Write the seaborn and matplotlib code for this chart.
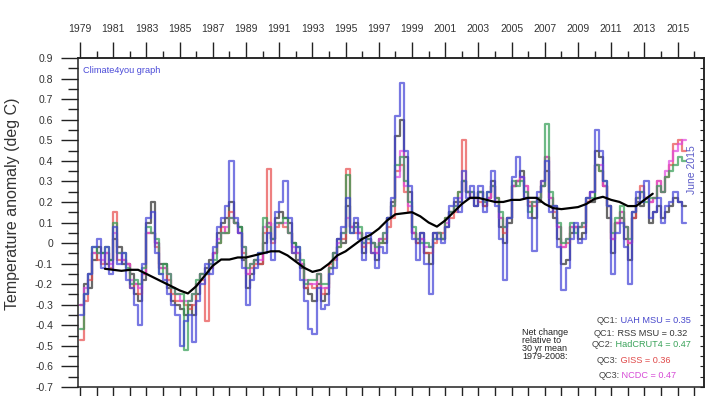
import numpy as np
import pandas as pd
import seaborn as sns
import matplotlib.pyplot as plt
from matplotlib.ticker import MultipleLocator, FixedLocator, NullFormatter

# quarterly anomalies (deg C), 1979 Q1 .. 2015 Q2
uah = [
    -0.35, -0.25, -0.15, -0.02,   # 1979
    0.02, -0.12, -0.02, -0.15,    # 1980
    0.08, -0.10, -0.05, -0.18,    # 1981
    -0.22, -0.30, -0.40, -0.10,   # 1982
    0.12, 0.15, -0.05, -0.15,     # 1983
    -0.18, -0.25, -0.30, -0.35,   # 1984
    -0.50, -0.38, -0.35, -0.48,   # 1985
    -0.28, -0.20, -0.10, -0.15,   # 1986
    -0.02, 0.08, 0.12, 0.18,      # 1987
    0.40, 0.12, 0.05, -0.12,      # 1988
    -0.30, -0.18, -0.12, -0.05,   # 1989
    -0.05, 0.05, -0.08, 0.15,     # 1990
    0.20, 0.30, 0.12, -0.05,      # 1991
    -0.02, -0.18, -0.28, -0.42,   # 1992
    -0.44, -0.22, -0.32, -0.30,   # 1993
    -0.15, -0.12, 0.02, 0.08,     # 1994
    0.22, 0.05, 0.12, 0.02,       # 1995
    -0.08, 0.05, -0.05, -0.12,    # 1996
    -0.02, -0.05, 0.12, 0.22,     # 1997
    0.62, 0.78, 0.45, 0.28,       # 1998
    0.02, -0.08, 0.05, -0.10,     # 1999
    -0.25, 0.05, 0.02, 0.00,      # 2000
    0.08, 0.18, 0.22, 0.15,       # 2001
    0.35, 0.22, 0.28, 0.18,       # 2002
    0.28, 0.15, 0.25, 0.35,       # 2003
    0.18, 0.02, -0.18, 0.12,      # 2004
    0.32, 0.42, 0.32, 0.22,       # 2005
    0.12, -0.04, 0.25, 0.30,      # 2006
    0.40, 0.15, 0.18, -0.02,      # 2007
    -0.23, -0.12, 0.02, 0.10,     # 2008
    0.00, 0.02, 0.22, 0.25,       # 2009
    0.55, 0.45, 0.30, 0.18,       # 2010
    -0.15, 0.05, 0.10, -0.02,     # 2011
    -0.20, 0.15, 0.25, 0.20,      # 2012
    0.30, 0.12, 0.15, 0.22,       # 2013
    0.10, 0.18, 0.20, 0.25,       # 2014
    0.20, 0.10,                   # 2015
]
rss = [
    -0.30, -0.20, -0.22, -0.08,
    -0.02, -0.05, -0.10, -0.08,
    0.02, -0.02, -0.10, -0.10,
    -0.15, -0.25, -0.28, -0.18,
    0.10, 0.20, 0.00, -0.10,
    -0.10, -0.22, -0.28, -0.30,
    -0.32, -0.35, -0.30, -0.35,
    -0.25, -0.15, -0.12, -0.08,
    -0.05, 0.05, 0.10, 0.12,
    0.20, 0.10, 0.08, -0.08,
    -0.22, -0.15, -0.08, -0.10,
    0.00, 0.10, 0.02, 0.12,
    0.15, 0.12, 0.10, 0.00,
    -0.08, -0.12, -0.22, -0.25,
    -0.28, -0.20, -0.28, -0.25,
    -0.12, -0.05, 0.02, 0.00,
    0.18, 0.08, 0.10, 0.05,
    -0.05, 0.02, 0.00, -0.08,
    0.02, 0.00, 0.12, 0.20,
    0.52, 0.60, 0.42, 0.25,
    0.05, 0.00, 0.05, -0.05,
    -0.10, 0.05, 0.05, 0.02,
    0.08, 0.15, 0.20, 0.20,
    0.30, 0.25, 0.22, 0.18,
    0.25, 0.18, 0.22, 0.30,
    0.20, 0.08, 0.00, 0.10,
    0.28, 0.30, 0.35, 0.22,
    0.18, 0.12, 0.20, 0.28,
    0.35, 0.18, 0.12, 0.02,
    -0.10, -0.08, 0.05, 0.08,
    0.02, 0.05, 0.20, 0.20,
    0.45, 0.42, 0.28, 0.12,
    -0.05, 0.10, 0.12, 0.02,
    -0.08, 0.12, 0.20, 0.18,
    0.22, 0.10, 0.15, 0.18,
    0.12, 0.15, 0.18, 0.22,
    0.20, 0.18,
]
hadcrut4 = [
    -0.42, -0.25, -0.15, -0.02,
    -0.05, -0.05, -0.02, -0.08,
    0.10, -0.05, -0.05, -0.12,
    -0.20, -0.18, -0.20, -0.12,
    0.08, 0.05, 0.02, -0.15,
    -0.10, -0.15, -0.22, -0.25,
    -0.25, -0.52, -0.28, -0.25,
    -0.18, -0.15, -0.15, -0.10,
    -0.08, 0.00, 0.05, 0.05,
    0.12, 0.10, 0.08, -0.02,
    -0.12, -0.10, -0.08, -0.05,
    0.12, 0.08, 0.02, 0.10,
    0.10, 0.12, 0.05, 0.00,
    -0.02, -0.08, -0.20, -0.18,
    -0.18, -0.15, -0.20, -0.20,
    -0.12, -0.05, -0.02, 0.05,
    0.33, 0.05, 0.08, 0.08,
    0.00, 0.02, 0.00, -0.02,
    0.00, 0.05, 0.12, 0.18,
    0.38, 0.42, 0.30, 0.20,
    0.08, 0.02, 0.00, 0.00,
    -0.02, 0.02, 0.05, 0.02,
    0.12, 0.15, 0.18, 0.25,
    0.30, 0.25, 0.25, 0.22,
    0.25, 0.20, 0.25, 0.28,
    0.22, 0.15, 0.08, 0.12,
    0.30, 0.28, 0.30, 0.25,
    0.15, 0.20, 0.22, 0.28,
    0.58, 0.25, 0.18, 0.10,
    0.00, 0.02, 0.10, 0.05,
    0.08, 0.10, 0.22, 0.22,
    0.38, 0.35, 0.30, 0.18,
    0.05, 0.12, 0.18, 0.08,
    0.02, 0.15, 0.22, 0.25,
    0.20, 0.22, 0.22, 0.28,
    0.25, 0.32, 0.35, 0.38,
    0.42, 0.40,
]
giss = [
    -0.47, -0.28, -0.18, -0.05,
    -0.08, -0.10, -0.05, -0.12,
    0.15, -0.08, -0.08, -0.10,
    -0.22, -0.20, -0.25, -0.15,
    0.05, 0.05, -0.02, -0.12,
    -0.12, -0.18, -0.25, -0.28,
    -0.28, -0.30, -0.32, -0.30,
    -0.20, -0.18, -0.38, -0.12,
    -0.05, 0.00, 0.08, 0.05,
    0.15, 0.10, 0.05, -0.05,
    -0.15, -0.12, -0.10, -0.10,
    0.05, 0.36, 0.00, 0.08,
    0.10, 0.08, 0.05, -0.05,
    -0.05, -0.10, -0.22, -0.20,
    -0.22, -0.15, -0.25, -0.22,
    -0.10, -0.08, -0.02, 0.02,
    0.36, 0.08, 0.05, 0.05,
    -0.02, 0.00, -0.05, -0.05,
    0.00, 0.02, 0.08, 0.12,
    0.35, 0.38, 0.25, 0.15,
    0.05, 0.00, 0.02, -0.05,
    -0.05, 0.00, 0.05, 0.05,
    0.12, 0.12, 0.15, 0.25,
    0.50, 0.25, 0.22, 0.22,
    0.20, 0.18, 0.22, 0.28,
    0.22, 0.12, 0.05, 0.12,
    0.28, 0.30, 0.32, 0.28,
    0.20, 0.18, 0.22, 0.30,
    0.42, 0.22, 0.15, 0.08,
    -0.02, 0.00, 0.08, 0.08,
    0.08, 0.08, 0.20, 0.25,
    0.38, 0.35, 0.28, 0.18,
    0.02, 0.10, 0.15, 0.08,
    0.00, 0.12, 0.22, 0.28,
    0.22, 0.20, 0.22, 0.30,
    0.25, 0.32, 0.38, 0.48,
    0.50, 0.45,
]
ncdc = [
    -0.30, -0.22, -0.15, -0.05,
    -0.05, -0.08, -0.05, -0.10,
    0.05, -0.05, -0.08, -0.10,
    -0.18, -0.20, -0.22, -0.15,
    0.05, 0.05, 0.00, -0.12,
    -0.12, -0.15, -0.22, -0.25,
    -0.28, -0.28, -0.28, -0.25,
    -0.20, -0.15, -0.15, -0.10,
    -0.05, 0.02, 0.05, 0.08,
    0.12, 0.10, 0.05, -0.02,
    -0.15, -0.10, -0.08, -0.08,
    0.08, 0.10, 0.02, 0.10,
    0.10, 0.10, 0.05, -0.02,
    -0.05, -0.10, -0.18, -0.20,
    -0.20, -0.15, -0.22, -0.22,
    -0.12, -0.05, 0.00, 0.05,
    0.12, 0.08, 0.08, 0.05,
    0.00, 0.02, 0.00, -0.05,
    0.02, 0.05, 0.12, 0.18,
    0.32, 0.45, 0.28, 0.18,
    0.05, 0.02, 0.02, -0.02,
    -0.02, 0.02, 0.05, 0.02,
    0.10, 0.15, 0.18, 0.22,
    0.30, 0.25, 0.25, 0.22,
    0.25, 0.20, 0.22, 0.28,
    0.20, 0.12, 0.08, 0.12,
    0.28, 0.30, 0.32, 0.28,
    0.18, 0.20, 0.22, 0.28,
    0.42, 0.22, 0.18, 0.08,
    -0.02, 0.02, 0.08, 0.08,
    0.08, 0.10, 0.22, 0.25,
    0.38, 0.38, 0.28, 0.18,
    0.02, 0.10, 0.15, 0.08,
    0.00, 0.15, 0.22, 0.25,
    0.22, 0.20, 0.22, 0.30,
    0.25, 0.35, 0.40, 0.45,
    0.48, 0.50,
]

# 37 month running mean (black line), every half year from 1980.5 to 2013.5
mean_vals = [
    -0.125, -0.13, -0.135, -0.13, -0.13, -0.15, -0.17, -0.19, -0.21, -0.23,
    -0.245, -0.21, -0.16, -0.11, -0.08, -0.08, -0.07, -0.07, -0.06, -0.05,
    -0.04, -0.04, -0.06, -0.09, -0.12, -0.14, -0.13, -0.10, -0.06, -0.04,
    -0.01, 0.02, 0.04, 0.07, 0.11, 0.14, 0.145, 0.15, 0.13, 0.10,
    0.08, 0.11, 0.15, 0.19, 0.22, 0.22, 0.21, 0.20, 0.20, 0.21,
    0.21, 0.22, 0.22, 0.19, 0.17, 0.165, 0.17, 0.175, 0.19, 0.215,
    0.225, 0.21, 0.20, 0.18, 0.18, 0.21, 0.24,
]

series_names = ['RSS MSU', 'GISS', 'NCDC', 'HadCRUT4', 'UAH MSU']
series_vals = [rss, giss, ncdc, hadcrut4, uah]
series_colors = ['#2a2a2a', '#e84a4a', '#e046e0', '#2f9c52', '#3f3fd6']

ytick_vals = [0.9, 0.8, 0.7, 0.6, 0.5, 0.4, 0.3, 0.2, 0.1, 0.0,
              -0.1, -0.2, -0.3, -0.4, -0.5, -0.6, -0.7]
ytick_labels = ['0.9', '0.8', '0.7', '0.6', '0.5', '0.4', '0.3', '0.2', '0.1', '0',
                '-0.1', '-0.2', '-0.3', '-0.4', '-0.5', '-0.6', '-0.7']

# legend text rows: (prefix, name = value, colour)
legend_rows = [
    ('QC1:', 'UAH MSU = 0.35', '#4848cc'),
    ('QC1:', 'RSS MSU = 0.32', '#333333'),
    ('QC2:', 'HadCRUT4 = 0.47', '#3aa35a'),
    ('QC3:', 'GISS = 0.36', '#e04a4a'),
    ('QC3:', 'NCDC = 0.47', '#d64ad6'),
]

quarters = 1979 + 0.25 * np.arange(len(uah))
frames = []
for name, vals in zip(series_names, series_vals):
    # repeat last value at the end of its quarter so the step is closed
    x = np.append(quarters, quarters[-1] + 0.25)
    y = np.append(vals, vals[-1])
    frames.append(pd.DataFrame({'year': x, 'anomaly': y, 'series': name}))
df = pd.concat(frames, ignore_index=True)
mean_years = 1980.5 + 0.5 * np.arange(len(mean_vals))

sns.set_style('ticks')
plt.rcParams['font.family'] = ['Liberation Sans', 'DejaVu Sans']
plt.rcParams['axes.unicode_minus'] = False

fig = plt.figure(figsize=(7.06, 3.96), dpi=100)
ax = fig.add_axes([0.1105, 0.0227, 0.8867, 0.8308])

sns.lineplot(data=df, x='year', y='anomaly', hue='series', hue_order=series_names,
             palette=dict(zip(series_names, series_colors)), estimator=None,
             drawstyle='steps-post', lw=1.6, alpha=0.7, legend=False, ax=ax)
sns.lineplot(x=mean_years, y=mean_vals, color='black', lw=1.6, ax=ax)

ax.set_xlim(1978.88, 2016.59)
ax.set_ylim(-0.7, 0.9)
ax.set_xlabel('')
ax.set_ylabel('Temperature anomaly (deg C)', fontsize=11.5, color='#333333')
ax.yaxis.set_label_coords(-0.093, 0.556)

for s in ax.spines.values():
    s.set_linewidth(1.1)
    s.set_color('#222222')

# bottom: a tick every year, no labels
ax.xaxis.set_major_locator(MultipleLocator(1))
ax.tick_params(axis='x', which='major', direction='out', length=8, width=1,
               bottom=True, top=False, labelbottom=False, color='#222222')

# left: labelled 0.1 ticks, minor 0.05
ax.yaxis.set_major_locator(FixedLocator(ytick_vals))
ax.set_yticklabels(ytick_labels)
ax.yaxis.set_minor_locator(MultipleLocator(0.05))
ax.tick_params(axis='y', which='major', direction='out', length=12, width=1, pad=6,
               labelsize=7.5, labelcolor='#333333', left=True, right=False, color='#222222')
ax.tick_params(axis='y', which='minor', direction='out', length=7, width=1,
               left=True, right=False, color='#222222')

# top: year labels on odd years
top = ax.secondary_xaxis('top')
top.xaxis.set_major_locator(FixedLocator(np.arange(1979, 2016, 2)))
top.xaxis.set_minor_locator(FixedLocator(np.arange(1980, 2017, 2)))
top.xaxis.set_major_formatter(plt.FuncFormatter(lambda v, p: f'{int(round(v))}'))
top.tick_params(which='major', direction='out', length=11.5, width=1, pad=6,
                labelsize=7.5, labelcolor='#333333', color='#222222')
top.tick_params(which='minor', direction='out', length=5, width=1, color='#222222')
top.spines['top'].set_linewidth(1.1)

# right: small inward ticks
right = ax.secondary_yaxis('right')
right.yaxis.set_major_locator(MultipleLocator(0.05))
right.yaxis.set_major_formatter(NullFormatter())
right.tick_params(which='major', direction='in', length=3, width=0.8, color='#222222')
right.spines['right'].set_linewidth(1.1)

ax.text(0.008, 0.9635, 'Climate4you graph', transform=ax.transAxes, fontsize=6.6,
        color='#4a4ad8', va='center', ha='left')
ax.text(0.981, 0.66, 'June 2015', transform=ax.transAxes, fontsize=7.5,
        color='#5a5ac8', rotation=90, va='center', ha='center')
ax.text(0.709, 0.18, 'Net change\nrelative to\n30 yr mean\n1979-2008:', transform=ax.transAxes,
        fontsize=6.5, color='#222222', va='top', ha='left', linespacing=0.85)

row_x = [0.829, 0.824, 0.821, 0.829, 0.831]
row_y = [0.2036, 0.164, 0.128, 0.082, 0.0365]
for (prefix, body, col), x, y in zip(legend_rows, row_x, row_y):
    t = ax.text(x, y, prefix, transform=ax.transAxes, fontsize=6.6, color='#444444',
                va='center', ha='left')
    ax.annotate(' ' + body, xy=(1, 0.5), xycoords=t, fontsize=6.6, color=col,
                va='center', ha='left')

fig.savefig('out.png', dpi=100)
